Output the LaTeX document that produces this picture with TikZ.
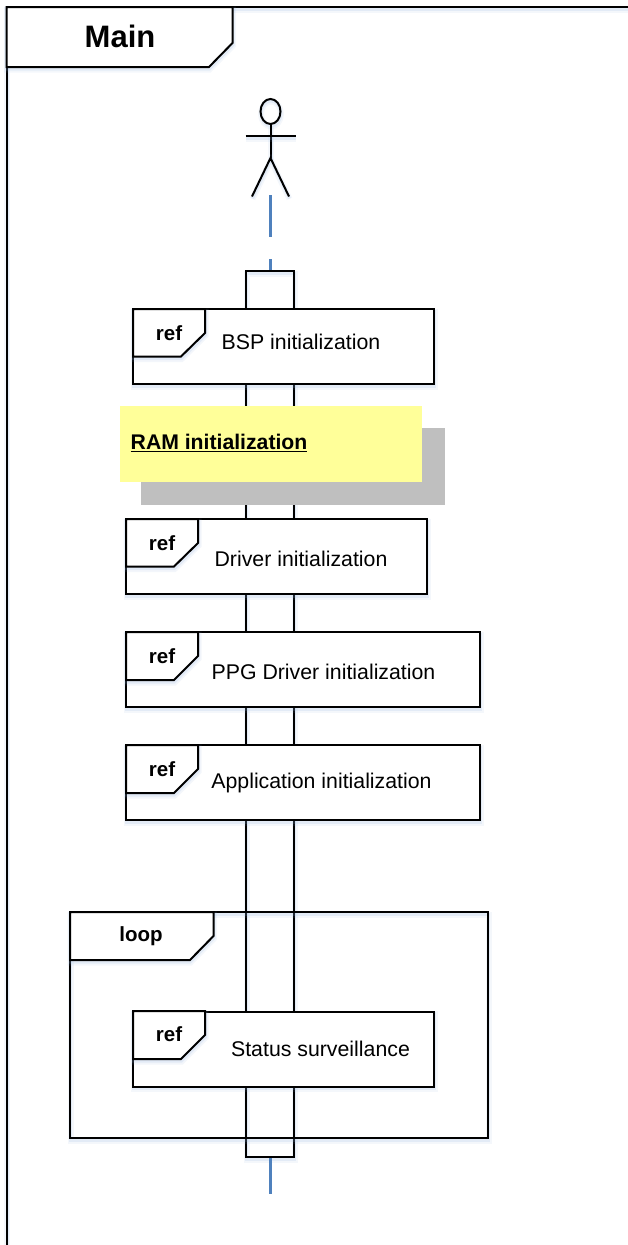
\documentclass[tikz,border=0pt]{standalone}
\usepackage{fontspec}
\setmainfont{Liberation Sans}
\definecolor{lifeblue}{HTML}{4F81BD}
\definecolor{shadowblue}{HTML}{8FB0DC}
\definecolor{notegrey}{HTML}{BFBFBF}
\definecolor{noteyellow}{HTML}{FFFF99}
\tikzset{
    softline/.style={line width=2pt, line join=miter,
        preaction={draw=shadowblue, line width=6pt, opacity=0.10, transform canvas={xshift=0.5pt, yshift=-2.5pt}},
        preaction={draw=shadowblue, line width=3pt, opacity=0.16, transform canvas={xshift=0.5pt, yshift=-2pt}}},
    refbox/.style={draw, softline, fill=white, rectangle, inner sep=0pt, minimum width=301pt, minimum height=75pt},
    tabshape/.style={draw, softline, fill=white},
    tablabel/.style={font=\fontsize{20.5}{24}\selectfont\bfseries, inner sep=0pt},
    boxlabel/.style={font=\fontsize{21.3}{24}\selectfont, inner sep=0pt},
    lifeline/.style={draw=lifeblue, line width=2.5pt}
}
\begin{document}
\begin{tikzpicture}[x=1pt, y=-1pt]
    \useasboundingbox (0,0) rectangle (628,1245);
    % outer frame
    \draw[softline] (6.5,1245) -- (6.5,7) -- (628,7);
    \draw[tabshape] (6.5,7) -- (232.5,7) -- (232.5,43) -- (209,67) -- (6.5,67) -- cycle;
    \node[font=\fontsize{31}{36}\selectfont\bfseries, inner sep=0pt] (maintitle) at (120,36) {Main};

    % actor
    \draw[softline] (270.5,111.5) ellipse (10pt and 12.5pt);
    \coordinate (neck) at (270.5,124);
    \coordinate (hip) at (270.5,158);
    \draw[softline] (neck) -- (hip);
    \draw[softline] (245.5,136) -- (295.5,136);
    \draw[softline] (252,196.5) -- (hip) -- (289,196.5);

    % lifeline
    \coordinate (lifeA) at (270.4,195);
    \coordinate (lifeB) at (270.4,237);
    \coordinate (lifeC) at (270.4,259);
    \coordinate (lifeD) at (270.4,1194);
    \node[draw, softline, rectangle, inner sep=0pt, minimum width=48pt, minimum height=886pt] (bar) at (270.4,714) {};
    \draw[lifeline] (lifeA) -- (lifeB);
    \draw[lifeline] (lifeC) -- (bar.north);
    \draw[lifeline] (bar.south) -- (lifeD);

    % loop frame
    \node[draw, softline, rectangle, inner sep=0pt, minimum width=418pt, minimum height=226pt] (loopframe) at (279,1025) {};
    \draw[tabshape] (70,912) -- (213.5,912) -- (213.5,936) -- (190,960) -- (70,960) -- cycle;
    \node[tablabel] (looplabel) at (141,936) {loop};

    % referenced fragments
    \node[refbox] (bsp) at (283.5,346.5) {};
    \draw[tabshape] (133,309) -- (205,309) -- (205,333) -- (181,356.5) -- (133,356.5) -- cycle;
    \node[tablabel] (bspref) at (169,333) {ref};
    \node[boxlabel] (bsplabel) at (301,342) {BSP initialization};

    \node[refbox] (driver) at (276.5,556.5) {};
    \draw[tabshape] (126,519) -- (198,519) -- (198,543) -- (174,566.5) -- (126,566.5) -- cycle;
    \node[tablabel] (driverref) at (162,543) {ref};
    \node[boxlabel] (driverlabel) at (301,559) {Driver initialization};

    \node[refbox, minimum width=354pt] (ppg) at (303,669.5) {};
    \draw[tabshape] (126,632) -- (198,632) -- (198,656) -- (174,680) -- (126,680) -- cycle;
    \node[tablabel] (ppgref) at (162,656) {ref};
    \node[boxlabel] (ppglabel) at (323.5,672) {PPG Driver initialization};

    \node[refbox, minimum width=354pt] (app) at (303,782.5) {};
    \draw[tabshape] (126,745) -- (198,745) -- (198,769) -- (174,793) -- (126,793) -- cycle;
    \node[tablabel] (appref) at (162,769) {ref};
    \node[boxlabel] (applabel) at (321.5,783) {Application initialization};

    \node[refbox] (status) at (283.5,1049) {};
    \draw[tabshape] (133,1011) -- (205,1011) -- (205,1035) -- (181,1059) -- (133,1059) -- cycle;
    \node[tablabel] (statusref) at (169,1034) {ref};
    \node[boxlabel] (statuslabel) at (320.5,1049) {Status surveillance};

    % note over the lifeline
    \node[fill=notegrey, rectangle, inner sep=0pt, minimum width=304pt, minimum height=77pt] (noteshade) at (293,466.5) {};
    \node[fill=noteyellow, rectangle, inner sep=0pt, minimum width=302pt, minimum height=76pt] (note) at (271,444) {};
    \node[font=\fontsize{21.2}{24}\selectfont\bfseries, inner sep=0pt, anchor=west] (notelabel) at (130.5,443) {\underline{RAM initialization}};
\end{tikzpicture}
\end{document}
